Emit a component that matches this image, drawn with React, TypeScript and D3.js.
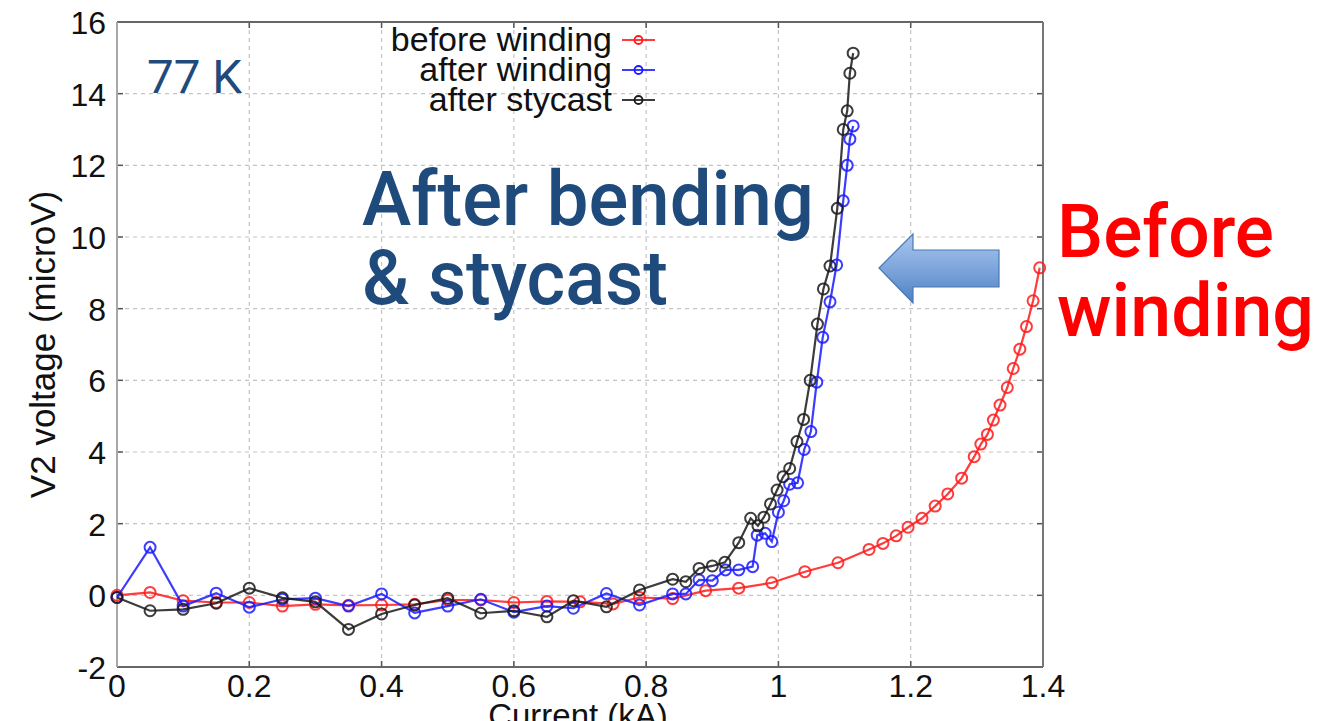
import React from "react";
import * as d3 from "d3";

// before winding (red)
const beforeCurrent = [0, 0.05, 0.1, 0.15, 0.2, 0.25, 0.3, 0.35, 0.4, 0.45, 0.5, 0.55, 0.6, 0.65, 0.7, 0.75, 0.79, 0.84, 0.89, 0.94, 0.99, 1.04, 1.09, 1.137, 1.158, 1.178, 1.196, 1.217, 1.237, 1.256, 1.277, 1.296, 1.306, 1.316, 1.325, 1.335, 1.346, 1.355, 1.365, 1.375, 1.385, 1.395];
const beforeVoltage = [0, 0.08, -0.15, -0.2, -0.2, -0.3, -0.25, -0.28, -0.27, -0.25, -0.13, -0.13, -0.2, -0.17, -0.18, -0.24, -0.06, -0.09, 0.13, 0.2, 0.35, 0.66, 0.91, 1.28, 1.45, 1.66, 1.9, 2.15, 2.49, 2.83, 3.27, 3.87, 4.22, 4.49, 4.89, 5.31, 5.8, 6.33, 6.87, 7.5, 8.22, 9.14];

// after winding (blue)
const windingCurrent = [0, 0.05, 0.1, 0.15, 0.2, 0.25, 0.3, 0.35, 0.4, 0.45, 0.5, 0.55, 0.6, 0.65, 0.69, 0.74, 0.79, 0.84, 0.86, 0.88, 0.9, 0.92, 0.94, 0.961, 0.968, 0.98, 0.99, 1.0, 1.008, 1.017, 1.029, 1.039, 1.049, 1.058, 1.067, 1.078, 1.088, 1.098, 1.104, 1.108, 1.113];
const windingVoltage = [-0.06, 1.34, -0.3, 0.06, -0.33, -0.11, -0.08, -0.3, 0.04, -0.49, -0.3, -0.11, -0.47, -0.3, -0.36, 0.05, -0.27, 0.04, 0.04, 0.43, 0.41, 0.71, 0.71, 0.8, 1.68, 1.73, 1.5, 2.32, 2.64, 3.1, 3.14, 4.07, 4.57, 5.95, 7.2, 8.19, 9.22, 11.01, 12.0, 12.73, 13.1];

// after stycast (black)
const stycastCurrent = [0, 0.05, 0.1, 0.15, 0.2, 0.25, 0.3, 0.35, 0.4, 0.45, 0.5, 0.55, 0.6, 0.65, 0.69, 0.74, 0.79, 0.84, 0.86, 0.88, 0.9, 0.919, 0.94, 0.958, 0.969, 0.978, 0.988, 0.998, 1.007, 1.017, 1.028, 1.038, 1.048, 1.059, 1.068, 1.078, 1.089, 1.098, 1.104, 1.108, 1.113];
const stycastVoltage = [-0.06, -0.43, -0.39, -0.22, 0.2, -0.07, -0.18, -0.95, -0.52, -0.27, -0.08, -0.5, -0.43, -0.6, -0.15, -0.32, 0.15, 0.45, 0.38, 0.75, 0.82, 0.92, 1.47, 2.15, 1.94, 2.18, 2.55, 2.94, 3.31, 3.54, 4.29, 4.91, 6.0, 7.57, 8.55, 9.19, 10.8, 13.0, 13.52, 14.57, 15.13];

const xTicks = [0, 0.2, 0.4, 0.6, 0.8, 1, 1.2, 1.4];
const yTicks = [-2, 0, 2, 4, 6, 8, 10, 12, 14, 16];

const seriesNames = ["before winding", "after winding", "after stycast"];
const seriesColors = ["#ff1a1a", "#1a1aff", "#1a1a1a"];

const W = 1322;
const H = 721;
const left = 117;
const right = 1043;
const top = 22;
const bottom = 667;

const font = "'Liberation Sans', Arial, sans-serif";
const noteFont = "Roboto, 'Liberation Sans', Arial, sans-serif";

export default function App() {
  const x = d3.scaleLinear().domain([0, 1.4]).range([left, right]);
  const y = d3.scaleLinear().domain([-2, 16]).range([bottom, top]);

  const series = [
    { xs: beforeCurrent, ys: beforeVoltage },
    { xs: windingCurrent, ys: windingVoltage },
    { xs: stycastCurrent, ys: stycastVoltage },
  ].map((s, i) => ({
    name: seriesNames[i],
    color: seriesColors[i],
    pts: s.xs.map((c, j) => [c, s.ys[j]] as [number, number]),
  }));

  const line = d3
    .line<[number, number]>()
    .x((d) => x(d[0]))
    .y((d) => y(d[1]));

  const fmt = (v: number) => (v === 0 || v === 1 ? String(v) : d3.format(".1f")(v));

  return (
    <svg
      width={W}
      height={H}
      style={{ position: "absolute", left: 0, top: 0, background: "#fff" }}
    >
      <defs>
        <linearGradient id="arrowFill" x1="0" y1="0" x2="0" y2="1">
          <stop offset="0" stopColor="#a9c6ec" />
          <stop offset="0.5" stopColor="#7ea6dc" />
          <stop offset="1" stopColor="#4f7fc0" />
        </linearGradient>
      </defs>
      <rect width={W} height={H} fill="#fff" />

      {/* grid */}
      {xTicks.slice(1, -1).map((t) => (
        <line key={"gx" + t} x1={x(t)} x2={x(t)} y1={top} y2={bottom} stroke="#c4c4c4" strokeDasharray="4,4" strokeWidth={1.2} />
      ))}
      {yTicks.slice(1, -1).map((t) => (
        <line key={"gy" + t} x1={left} x2={right} y1={y(t)} y2={y(t)} stroke="#c4c4c4" strokeDasharray="4,4" strokeWidth={1.2} />
      ))}

      {/* inner tick marks */}
      {xTicks.slice(1, -1).map((t) => (
        <g key={"tx" + t} stroke="#555" strokeWidth={1.5}>
          <line x1={x(t)} x2={x(t)} y1={bottom} y2={bottom - 6} />
          <line x1={x(t)} x2={x(t)} y1={top} y2={top + 6} />
        </g>
      ))}
      {yTicks.slice(1, -1).map((t) => (
        <g key={"ty" + t} stroke="#555" strokeWidth={1.5}>
          <line x1={left} x2={left + 6} y1={y(t)} y2={y(t)} />
          <line x1={right} x2={right - 6} y1={y(t)} y2={y(t)} />
        </g>
      ))}

      {/* frame */}
      <line x1={left} x2={right} y1={top} y2={top} stroke="#666" strokeWidth={2} />
      <line x1={left} x2={right} y1={bottom} y2={bottom} stroke="#666" strokeWidth={2} />
      <line x1={right} x2={right} y1={top} y2={bottom} stroke="#777" strokeWidth={2} />
      <line x1={left} x2={left} y1={top} y2={bottom} stroke="#a8a8a8" strokeWidth={2} />

      {/* tick labels */}
      <g fontFamily={font} fontSize={32} fill="#111">
        {yTicks.map((t) => (
          <text key={"ly" + t} x={106} y={y(t) + 12} textAnchor="end">
            {t}
          </text>
        ))}
        {xTicks.map((t) => (
          <text key={"lx" + t} x={x(t)} y={697} textAnchor="middle">
            {fmt(t)}
          </text>
        ))}
      </g>

      {/* axis titles */}
      <text x={(left + right) / 2 - 2} y={727} textAnchor="middle" fontFamily={font} fontSize={33} fill="#111">
        Current (kA)
      </text>
      <text
        transform={`translate(55,${(top + bottom) / 2}) rotate(-90)`}
        textAnchor="middle"
        fontFamily={font}
        fontSize={35}
        fill="#111"
      >
        V2 voltage (microV)
      </text>

      {/* series */}
      {series.map((s) => (
        <g key={s.name} stroke={s.color} fill="none" strokeOpacity={0.85}>
          <path d={line(s.pts) || ""} strokeWidth={2.2} />
          {s.pts.map((p, j) => (
            <circle key={j} cx={x(p[0])} cy={y(p[1])} r={5.5} strokeWidth={2} />
          ))}
        </g>
      ))}

      {/* legend */}
      <g fontFamily={font} fontSize={34} fill="#111">
        {series.map((s, i) => (
          <g key={"lg" + s.name} transform={`translate(0,${40 + i * 30})`}>
            <text x={612} y={11} textAnchor="end">
              {s.name}
            </text>
            <line x1={622} x2={655} y1={0} y2={0} stroke={s.color} strokeWidth={2.2} strokeOpacity={0.85} />
            <circle cx={638.5} cy={0} r={4} fill="none" stroke={s.color} strokeWidth={1.8} />
          </g>
        ))}
      </g>

      {/* annotations */}
      <g fontFamily={noteFont} fontWeight={500}>
        <text x={147} y={93} fontSize={46} fontWeight={400} fill="#1f4a7c" textLength={95} lengthAdjust="spacingAndGlyphs">
          77 K
        </text>
        <text x={362} y={225} fontSize={76} fill="#1f4a7c" textLength={452} lengthAdjust="spacingAndGlyphs">
          After bending
        </text>
        <text x={362} y={304} fontSize={76} fill="#1f4a7c" textLength={306} lengthAdjust="spacingAndGlyphs">
          &amp; stycast
        </text>
        <text x={1057} y={257} fontSize={75} fill="#ff0000" textLength={217} lengthAdjust="spacingAndGlyphs">
          Before
        </text>
        <text x={1057} y={336} fontSize={75} fill="#ff0000" textLength={257} lengthAdjust="spacingAndGlyphs">
          winding
        </text>
      </g>

      {/* block arrow */}
      <path
        d="M879,268 L913,234 L913,250 L999,250 L999,287 L913,287 L913,303 Z"
        fill="url(#arrowFill)"
        stroke="#4a78b5"
        strokeWidth={1.2}
      />
    </svg>
  );
}
